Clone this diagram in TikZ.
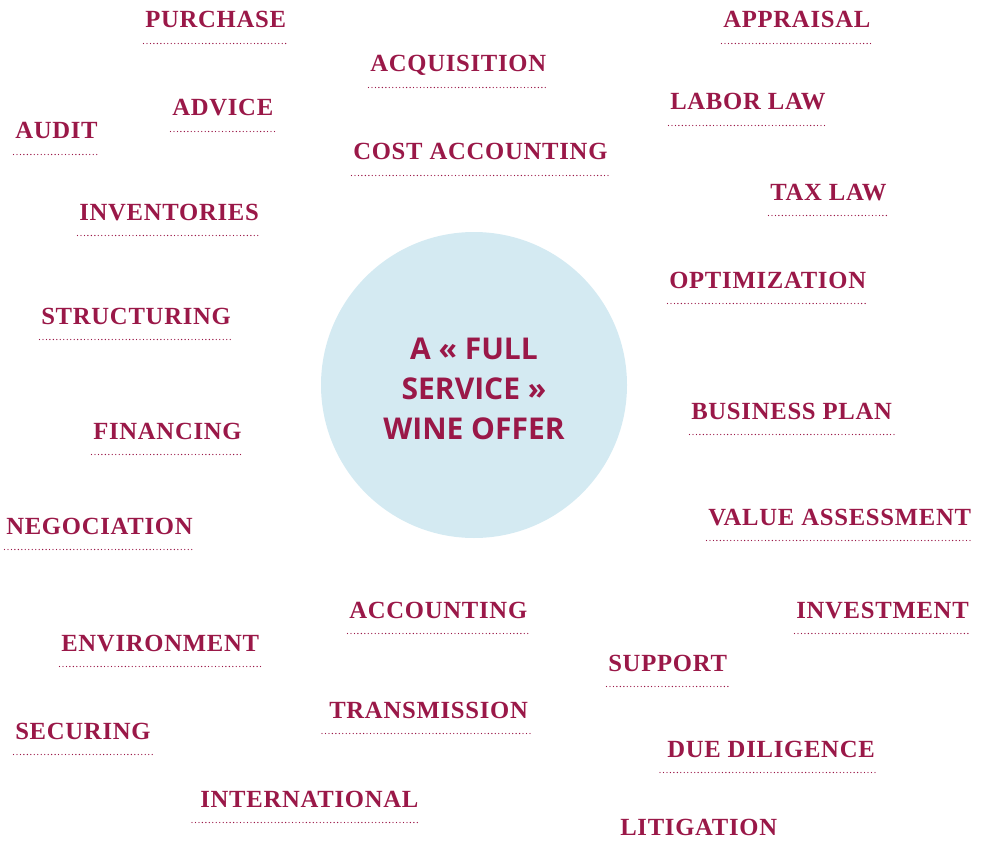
\documentclass[tikz,border=0pt]{standalone}
\usepackage{fontspec}
\newfontfamily\labelfont{Liberation Serif}[LetterSpace=3]
\newfontfamily\offerfont{Open Sans}
\usetikzlibrary{calc}
\definecolor{wine}{RGB}{154,24,72}
\definecolor{paleblue}{RGB}{212,234,242}
\tikzset{
  lbl/.style={anchor=base west, inner sep=0pt, text=wine, font=\labelfont\bfseries\fontsize{18.5}{20}\selectfont},
  dotrule/.style={draw=wine, line width=1pt, line cap=round, dash pattern=on 0pt off 2.6pt},
  offer/.style={circle, fill=paleblue, minimum size=229.5pt, inner sep=0pt},
  offertxt/.style={inner sep=0pt, text=wine, align=center, font=\offerfont\bfseries\fontsize{22.5}{30}\selectfont}
}

\begin{document}
\begin{tikzpicture}[x=0.75pt,y=0.75pt,yscale=-1,xscale=1]
\path[use as bounding box] (0,0) rectangle (981,845);

%Shape: Circle
\node[offer] (offer) at (474,385) {};
\node[offertxt] (offertxt) at ($(offer.center)+(0,4)$) {A « FULL\\SERVICE »\\WINE OFFER};

% Text Node
\node[lbl] (purchase) at (145,28) {PURCHASE};
\draw[dotrule] ($(purchase.base west)+(-1.5,15.5)$) -- ($(purchase.base east)+(2,15.5)$);
% Text Node
\node[lbl] (acquisition) at (370,72) {ACQUISITION};
\draw[dotrule] ($(acquisition.base west)+(-1.5,15.5)$) -- ($(acquisition.base east)+(2,15.5)$);
% Text Node
\node[lbl] (appraisal) at (723,28) {APPRAISAL};
\draw[dotrule] ($(appraisal.base west)+(-1.5,15.5)$) -- ($(appraisal.base east)+(2,15.5)$);
% Text Node
\node[lbl] (laborlaw) at (670,110) {LABOR LAW};
\draw[dotrule] ($(laborlaw.base west)+(-1.5,15.5)$) -- ($(laborlaw.base east)+(2,15.5)$);
% Text Node
\node[lbl] (advice) at (172,116) {ADVICE};
\draw[dotrule] ($(advice.base west)+(-1.5,15.5)$) -- ($(advice.base east)+(2,15.5)$);
% Text Node
\node[lbl] (audit) at (15,139) {AUDIT};
\draw[dotrule] ($(audit.base west)+(-1.5,15.5)$) -- ($(audit.base east)+(2,15.5)$);
% Text Node
\node[lbl] (costacc) at (353,160) {COST ACCOUNTING};
\draw[dotrule] ($(costacc.base west)+(-1.5,15.5)$) -- ($(costacc.base east)+(2,15.5)$);
% Text Node
\node[lbl] (taxlaw) at (770,200) {TAX LAW};
\draw[dotrule] ($(taxlaw.base west)+(-1.5,15.5)$) -- ($(taxlaw.base east)+(2,15.5)$);
% Text Node
\node[lbl] (inventories) at (79,220) {INVENTORIES};
\draw[dotrule] ($(inventories.base west)+(-1.5,15.5)$) -- ($(inventories.base east)+(2,15.5)$);
% Text Node
\node[lbl] (optimization) at (669,288) {OPTIMIZATION};
\draw[dotrule] ($(optimization.base west)+(-1.5,15.5)$) -- ($(optimization.base east)+(2,15.5)$);
% Text Node
\node[lbl] (structuring) at (41,324) {STRUCTURING};
\draw[dotrule] ($(structuring.base west)+(-1.5,15.5)$) -- ($(structuring.base east)+(2,15.5)$);
% Text Node
\node[lbl] (bizplan) at (691,419) {BUSINESS PLAN};
\draw[dotrule] ($(bizplan.base west)+(-1.5,15.5)$) -- ($(bizplan.base east)+(2,15.5)$);
% Text Node
\node[lbl] (financing) at (93,439) {FINANCING};
\draw[dotrule] ($(financing.base west)+(-1.5,15.5)$) -- ($(financing.base east)+(2,15.5)$);
% Text Node
\node[lbl] (negociation) at (6,534) {NEGOCIATION};
\draw[dotrule] ($(negociation.base west)+(-1.5,15.5)$) -- ($(negociation.base east)+(2,15.5)$);
% Text Node
\node[lbl] (valueass) at (708,525) {VALUE ASSESSMENT};
\draw[dotrule] ($(valueass.base west)+(-1.5,15.5)$) -- ($(valueass.base east)+(2,15.5)$);
% Text Node
\node[lbl] (accounting) at (349,618) {ACCOUNTING};
\draw[dotrule] ($(accounting.base west)+(-1.5,15.5)$) -- ($(accounting.base east)+(2,15.5)$);
% Text Node
\node[lbl] (investment) at (796,618) {INVESTMENT};
\draw[dotrule] ($(investment.base west)+(-1.5,15.5)$) -- ($(investment.base east)+(2,15.5)$);
% Text Node
\node[lbl] (environment) at (61,651) {ENVIRONMENT};
\draw[dotrule] ($(environment.base west)+(-1.5,15.5)$) -- ($(environment.base east)+(2,15.5)$);
% Text Node
\node[lbl] (support) at (608,671) {SUPPORT};
\draw[dotrule] ($(support.base west)+(-1.5,15.5)$) -- ($(support.base east)+(2,15.5)$);
% Text Node
\node[lbl] (transmission) at (329,718) {TRANSMISSION};
\draw[dotrule] ($(transmission.base west)+(-7,15.5)$) -- ($(transmission.base east)+(2,15.5)$);
% Text Node
\node[lbl] (securing) at (15,739) {SECURING};
\draw[dotrule] ($(securing.base west)+(-1.5,15.5)$) -- ($(securing.base east)+(2,15.5)$);
% Text Node
\node[lbl] (duedil) at (667,757) {DUE DILIGENCE};
\draw[dotrule] ($(duedil.base west)+(-7,15.5)$) -- ($(duedil.base east)+(2,15.5)$);
% Text Node
\node[lbl] (international) at (200,807) {INTERNATIONAL};
\draw[dotrule] ($(international.base west)+(-8,15.5)$) -- ($(international.base east)+(2,15.5)$);
% Text Node
\node[lbl] (litigation) at (620,835) {LITIGATION};

\end{tikzpicture}
\end{document}
